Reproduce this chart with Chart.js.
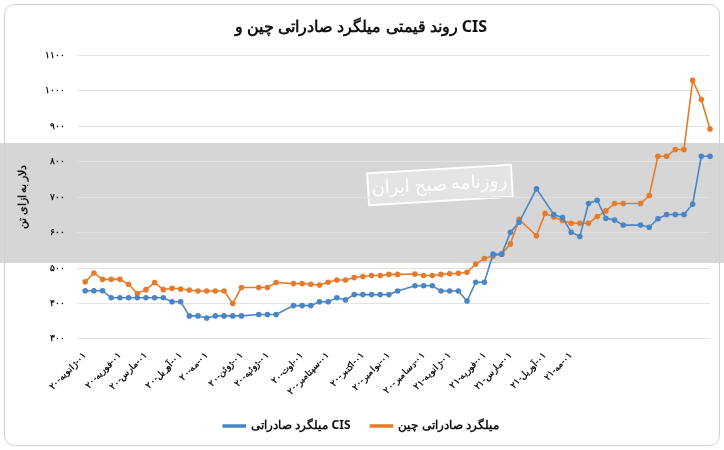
<!DOCTYPE html>
<html><head><meta charset="utf-8">
<script src="https://cdn.jsdelivr.net/npm/chart.js@4/dist/chart.umd.min.js"></script>
<style>html,body{margin:0;padding:0;background:#fff}#w{width:724px;height:450px;position:relative}</style>
</head><body><div id="w"><canvas id="c" width="724" height="450"></canvas></div>
<script>
const monthLabels=["۰۱-ژانویه-۲۰","۰۱-فوریه-۲۰","۰۱-مارس-۲۰","۰۱-آوریل-۲۰","۰۱-مه-۲۰","۰۱-ژوئن-۲۰","۰۱-ژوئیه-۲۰","۰۱-اوت-۲۰","۰۱-سپتامبر-۲۰","۰۱-اکتبر-۲۰","۰۱-نوامبر-۲۰","۰۱-دسامبر-۲۰","۰۱-ژانویه-۲۱","۰۱-فوریه-۲۱","۰۱-مارس-۲۱","۰۱-آوریل-۲۱","۰۱-مه-۲۱"];
const labelStep=3.5;
const china=[461,486,468,468,468,454,428,439,459,439,443,441,438,435,435,435,435,400,445,null,445,445,459,null,456,456,454,452,460,466,466,473,476,479,479,482,482,null,483,479,479,482,484,485,488,511,527,
534,539,568,637,null,591,654,644,634,626,626,626,645,661,682,682,null,682,704,815,815,834,834,1029,975,892];
const cis=[436,436,436,416,416,416,416,416,416,416,405,405,365,365,359,365,365,365,365,null,369,369,369,null,394,394,394,405,405,416,410,425,425,425,425,425,435,null,450,450,450,435,435,435,407,460,460,
539,539,601,629,null,723,null,651,642,601,589,682,691,640,635,621,null,621,615,639,651,651,651,680,815,815];
const yTicks=[300,400,500,600,700,800,900,1000,1100];
const fa=s=>String(s).replace(/\d/g,d=>"۰۱۲۳۴۵۶۷۸۹"[d]);
const labels=china.map(()=>"");
monthLabels.forEach((m,k)=>{labels[Math.round(k*labelStep)]=m;});
const bg={id:'bg',beforeDraw(ch){const c=ch.ctx;c.save();c.fillStyle='#fff';c.fillRect(0,0,724,450);
c.fillStyle='#d6d6d6';c.fillRect(0,143,724,120);
c.strokeStyle='#d0d0d0';c.lineWidth=1;c.beginPath();c.roundRect(4.5,4.5,715,441,10);c.stroke();
c.translate(440,185);c.rotate(-0.06);c.fillStyle='#e4e4e4';c.fillRect(-72,-16,144,32);c.strokeStyle='#fff';c.lineWidth=2;c.strokeRect(-72,-16,144,32);
c.fillStyle='#fff';c.font='18px "Noto Sans"';c.textAlign='center';c.textBaseline='middle';c.fillText('روزنامه صبح ایران',0,0);c.restore();}};
new Chart(document.getElementById('c'),{type:'line',
data:{labels,datasets:[
{label:'میلگرد صادراتی CIS',data:cis,borderColor:'#4a86c6',backgroundColor:'#4a86c6',borderWidth:1.6,pointRadius:2,pointHoverRadius:2,spanGaps:true,tension:0},
{label:'میلگرد صادراتی چین',data:china,borderColor:'#e57b2b',backgroundColor:'#e57b2b',borderWidth:1.6,pointRadius:2,pointHoverRadius:2,spanGaps:true,tension:0}]},
options:{responsive:false,animation:false,devicePixelRatio:1,
layout:{padding:{left:12,right:14,top:12,bottom:8}},
plugins:{title:{display:true,text:'روند قیمتی میلگرد صادراتی چین و CIS',font:{family:'"Noto Sans"',size:16,weight:'bold'},color:'#111',padding:{top:6,bottom:18}},
legend:{position:'bottom',labels:{font:{family:'"Noto Sans"',size:12,weight:'bold'},color:'#111',boxWidth:22,boxHeight:2,padding:20},},tooltip:{enabled:false}},
scales:{x:{grid:{display:false},border:{display:false},ticks:{autoSkip:false,maxRotation:45,minRotation:45,font:{family:'"Noto Sans"',size:9,weight:'bold'},color:'#111',callback:(v,i)=>labels[i]?'\u202B'+labels[i]+'\u202C':''}},
y:{min:300,max:1100,afterBuildTicks:s=>{s.ticks=yTicks.map(v=>({value:v}));},grid:{color:'#e2e2e2'},border:{display:false},
title:{display:true,text:'دلار به ازای تن',font:{family:'"Noto Sans"',size:11,weight:'bold'},color:'#111'},
ticks:{padding:12,font:{family:'"Noto Sans"',size:9,weight:'bold'},color:'#111',callback:v=>fa(v)}}}},
plugins:[bg]});
</script></body></html>
